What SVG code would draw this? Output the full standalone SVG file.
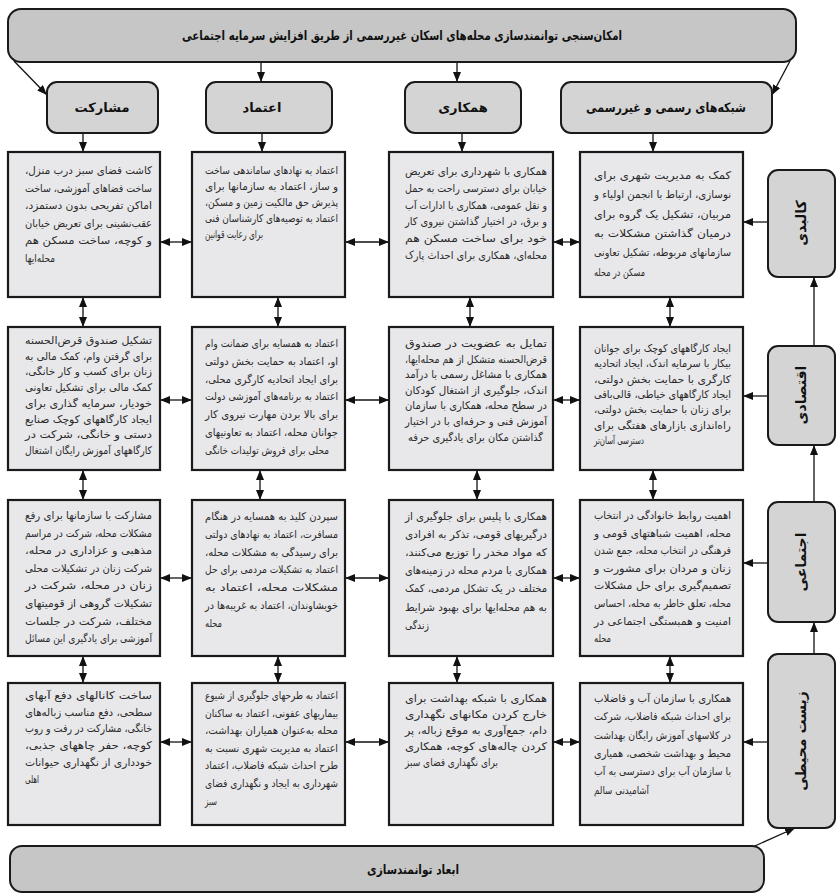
<svg xmlns="http://www.w3.org/2000/svg" width="838" height="896" viewBox="0 0 838 896">
<style>
.bar{fill:#c6c6c6;stroke:#1a1a1a;stroke-width:2}
.hd{fill:#d4d4d4;stroke:#1a1a1a;stroke-width:2}
.bx{fill:#e8e8ea;stroke:#1a1a1a;stroke-width:2.2}
.t{font-family:"DejaVu Sans",sans-serif;font-size:10.5px;fill:#2a2a2a;direction:rtl;text-anchor:start}
.h{font-family:"DejaVu Sans",sans-serif;font-size:13px;font-weight:bold;fill:#111;direction:rtl;text-anchor:middle}
.s{font-family:"DejaVu Sans",sans-serif;font-size:14px;font-weight:bold;fill:#111;direction:rtl;text-anchor:middle}
.c{stroke:#111;stroke-width:1.3;fill:none}
.a1{marker-end:url(#ah)}
.a2{marker-start:url(#ah);marker-end:url(#ah)}
</style>
<defs>
<marker id="ah" viewBox="0 0 10 8" refX="10" refY="4" markerWidth="10" markerHeight="8" markerUnits="userSpaceOnUse" orient="auto-start-reverse">
<path d="M0,0 L10,4 L0,8 z" fill="#111"/>
</marker>
</defs>

<g id="connectors">
<line class="c a1" x1="14" y1="61" x2="47" y2="95"/>
<line class="c a1" x1="790" y1="61" x2="772" y2="95"/>
<line class="c a1" x1="261" y1="62" x2="261" y2="82"/>
<line class="c a1" x1="457" y1="62" x2="457" y2="82"/>
<line class="c a1" x1="83" y1="133" x2="83" y2="152"/>
<line class="c a1" x1="262" y1="133" x2="262" y2="152"/>
<line class="c a1" x1="462" y1="133" x2="462" y2="152"/>
<line class="c a1" x1="653" y1="133" x2="653" y2="152"/>
<line class="c a2" x1="83" y1="297" x2="83" y2="327"/>
<line class="c a2" x1="278" y1="297" x2="278" y2="327"/>
<line class="c a2" x1="470" y1="297" x2="470" y2="327"/>
<line class="c a2" x1="670" y1="297" x2="670" y2="327"/>
<line class="c a2" x1="83" y1="470" x2="83" y2="500"/>
<line class="c a2" x1="260" y1="470" x2="260" y2="500"/>
<line class="c a2" x1="477" y1="470" x2="477" y2="500"/>
<line class="c a2" x1="653" y1="470" x2="653" y2="500"/>
<line class="c a2" x1="83" y1="656" x2="83" y2="683"/>
<line class="c a2" x1="278" y1="656" x2="278" y2="683"/>
<line class="c a2" x1="457" y1="656" x2="457" y2="683"/>
<line class="c a2" x1="670" y1="656" x2="670" y2="683"/>
<line class="c a2" x1="160" y1="242" x2="192" y2="242"/>
<line class="c a2" x1="345" y1="242" x2="389" y2="242"/>
<line class="c a2" x1="553" y1="242" x2="580" y2="242"/>
<line class="c a2" x1="160" y1="400" x2="192" y2="400"/>
<line class="c a2" x1="345" y1="400" x2="389" y2="400"/>
<line class="c a2" x1="553" y1="400" x2="580" y2="400"/>
<line class="c a2" x1="160" y1="578" x2="192" y2="578"/>
<line class="c a2" x1="345" y1="578" x2="389" y2="578"/>
<line class="c a2" x1="553" y1="578" x2="580" y2="578"/>
<line class="c a2" x1="160" y1="742" x2="192" y2="742"/>
<line class="c a2" x1="345" y1="742" x2="389" y2="742"/>
<line class="c a2" x1="553" y1="742" x2="580" y2="742"/>
<line class="c a1" x1="768" y1="222" x2="743" y2="222"/>
<line class="c a1" x1="768" y1="396" x2="743" y2="396"/>
<line class="c a1" x1="768" y1="563" x2="743" y2="563"/>
<line class="c a1" x1="768" y1="742" x2="743" y2="742"/>
<line class="c a1" x1="814" y1="346" x2="814" y2="277"/>
<line class="c a1" x1="814" y1="502" x2="814" y2="445"/>
<line class="c a1" x1="814" y1="654" x2="814" y2="622"/>
<line class="c a1" x1="748" y1="849" x2="795" y2="828"/>
</g>

<g id="title">
<rect class="bar" x="8" y="9" width="788" height="53" rx="13"/>
<text class="h" x="402" y="40" textLength="440" lengthAdjust="spacingAndGlyphs">امکان‌سنجی توانمندسازی محله‌های اسکان غیررسمی از طریق افزایش سرمایه اجتماعی</text>
</g>

<g id="h-mosharekat"><rect class="hd" x="47" y="82" width="111" height="51" rx="10"/><text class="h" x="102" y="112">مشارکت</text></g>
<g id="h-etemad"><rect class="hd" x="206" y="82" width="126" height="51" rx="10"/><text class="h" x="262" y="112">اعتماد</text></g>
<g id="h-hamkari"><rect class="hd" x="405" y="82" width="116" height="51" rx="10"/><text class="h" x="463" y="112">همکاری</text></g>
<g id="h-shabakeh"><rect class="hd" x="561" y="82" width="211" height="51" rx="10"/><text class="h" x="666" y="112" textLength="160" lengthAdjust="spacingAndGlyphs">شبکه‌های رسمی و غیررسمی</text></g>

<g id="s-kalbadi"><rect class="hd" x="768" y="170" width="67" height="107" rx="10"/><text class="s" transform="translate(806,223) rotate(-90)" x="0" y="0">کالبدی</text></g>
<g id="s-eghtesadi"><rect class="hd" x="768" y="346" width="67" height="99" rx="10"/><text class="s" transform="translate(806,395) rotate(-90)" x="0" y="0">اقتصادی</text></g>
<g id="s-ejtemai"><rect class="hd" x="768" y="502" width="67" height="120" rx="10"/><text class="s" transform="translate(806,562) rotate(-90)" x="0" y="0">اجتماعی</text></g>
<g id="s-zist"><rect class="hd" x="768" y="654" width="67" height="174" rx="10"/><text class="s" transform="translate(806,741) rotate(-90)" x="0" y="0">زیست محیطی</text></g>

<g id="bottom">
<rect class="bar" x="10" y="846" width="754" height="46" rx="12"/>
<text class="h" x="413" y="874" textLength="92" lengthAdjust="spacingAndGlyphs">ابعاد توانمندسازی</text>
</g>

<g id="r1c1"><rect class="bx" x="8" y="152" width="152" height="145"/>
<text class="t" x="152" y="174" textLength="127" lengthAdjust="spacingAndGlyphs">کاشت فضای سبز درب منزل،</text>
<text class="t" x="152" y="191.5" textLength="127" lengthAdjust="spacingAndGlyphs">ساخت فضاهای آموزشی، ساخت</text>
<text class="t" x="152" y="209" textLength="127" lengthAdjust="spacingAndGlyphs">اماکن تفریحی بدون دستمزد،</text>
<text class="t" x="152" y="226.5" textLength="127" lengthAdjust="spacingAndGlyphs">عقب‌نشینی برای تعریض خیابان</text>
<text class="t" x="152" y="244" textLength="127" lengthAdjust="spacingAndGlyphs">و کوچه، ساخت مسکن هم</text>
<text class="t" x="55" y="261.5" textLength="30" lengthAdjust="spacingAndGlyphs">محله‌ایها</text>
</g>
<g id="r1c2"><rect class="bx" x="192" y="152" width="153" height="145"/>
<text class="t" x="338" y="174" textLength="133" lengthAdjust="spacingAndGlyphs">اعتماد به نهادهای ساماندهی ساخت</text>
<text class="t" x="338" y="190.1" textLength="133" lengthAdjust="spacingAndGlyphs">و ساز، اعتماد به سازمانها برای</text>
<text class="t" x="338" y="206.2" textLength="133" lengthAdjust="spacingAndGlyphs">پذیرش حق مالکیت زمین و مسکن،</text>
<text class="t" x="338" y="222.3" textLength="133" lengthAdjust="spacingAndGlyphs">اعتماد به توصیه‌های کارشناسان فنی</text>
<text class="t" x="263" y="238.4" textLength="58" lengthAdjust="spacingAndGlyphs">برای رعایت قوانین</text>
</g>
<g id="r1c3"><rect class="bx" x="389" y="152" width="164" height="145"/>
<text class="t" x="547" y="175" textLength="142" lengthAdjust="spacingAndGlyphs">همکاری با شهرداری برای تعریض</text>
<text class="t" x="547" y="191.8" textLength="142" lengthAdjust="spacingAndGlyphs">خیابان برای دسترسی راحت به حمل</text>
<text class="t" x="547" y="208.6" textLength="142" lengthAdjust="spacingAndGlyphs">و نقل عمومی، همکاری با ادارات آب</text>
<text class="t" x="547" y="225.4" textLength="142" lengthAdjust="spacingAndGlyphs">و برق، در اختیار گذاشتن نیروی کار</text>
<text class="t" x="547" y="242.2" textLength="142" lengthAdjust="spacingAndGlyphs">خود برای ساخت مسکن هم</text>
<text class="t" x="547" y="259" textLength="142" lengthAdjust="spacingAndGlyphs">محله‌ای، همکاری برای احداث پارک</text>
</g>
<g id="r1c4"><rect class="bx" x="580" y="152" width="163" height="145"/>
<text class="t" x="731" y="179" textLength="137" lengthAdjust="spacingAndGlyphs">کمک به مدیریت شهری برای</text>
<text class="t" x="731" y="198.3" textLength="137" lengthAdjust="spacingAndGlyphs">نوسازی، ارتباط با انجمن اولیاء و</text>
<text class="t" x="731" y="217.6" textLength="137" lengthAdjust="spacingAndGlyphs">مربیان، تشکیل یک گروه برای</text>
<text class="t" x="731" y="236.9" textLength="137" lengthAdjust="spacingAndGlyphs">درمیان گذاشتن مشکلات به</text>
<text class="t" x="731" y="256.2" textLength="137" lengthAdjust="spacingAndGlyphs">سازمانهای مربوطه، تشکیل تعاونی</text>
<text class="t" x="645" y="275.5" textLength="51" lengthAdjust="spacingAndGlyphs">مسکن در محله</text>
</g>

<g id="r2c1"><rect class="bx" x="8" y="327" width="152" height="143"/>
<text class="t" x="152" y="344" textLength="127" lengthAdjust="spacingAndGlyphs">تشکیل صندوق قرض‌الحسنه</text>
<text class="t" x="152" y="359.7" textLength="127" lengthAdjust="spacingAndGlyphs">برای گرفتن وام، کمک مالی به</text>
<text class="t" x="152" y="375.4" textLength="127" lengthAdjust="spacingAndGlyphs">زنان برای کسب و کار خانگی،</text>
<text class="t" x="152" y="391.1" textLength="127" lengthAdjust="spacingAndGlyphs">کمک مالی برای تشکیل تعاونی</text>
<text class="t" x="152" y="406.8" textLength="127" lengthAdjust="spacingAndGlyphs">خودیار، سرمایه گذاری برای</text>
<text class="t" x="152" y="422.5" textLength="127" lengthAdjust="spacingAndGlyphs">ایجاد کارگاههای کوچک صنایع</text>
<text class="t" x="152" y="438.2" textLength="127" lengthAdjust="spacingAndGlyphs">دستی و خانگی، شرکت در</text>
<text class="t" x="152" y="453.9" textLength="127" lengthAdjust="spacingAndGlyphs">کارگاههای آموزش رایگان اشتغال</text>
</g>
<g id="r2c2"><rect class="bx" x="192" y="327" width="153" height="143"/>
<text class="t" x="338" y="347" textLength="133" lengthAdjust="spacingAndGlyphs">اعتماد به همسایه برای ضمانت وام</text>
<text class="t" x="338" y="364.8" textLength="133" lengthAdjust="spacingAndGlyphs">او، اعتماد به حمایت بخش دولتی</text>
<text class="t" x="338" y="382.6" textLength="133" lengthAdjust="spacingAndGlyphs">برای ایجاد اتحادیه کارگری محلی،</text>
<text class="t" x="338" y="400.4" textLength="133" lengthAdjust="spacingAndGlyphs">اعتماد به برنامه‌های آموزشی دولت</text>
<text class="t" x="338" y="418.2" textLength="133" lengthAdjust="spacingAndGlyphs">برای بالا بردن مهارت نیروی کار</text>
<text class="t" x="338" y="436" textLength="133" lengthAdjust="spacingAndGlyphs">جوانان محله، اعتماد به تعاونیهای</text>
<text class="t" x="329" y="453.8" textLength="124" lengthAdjust="spacingAndGlyphs">محلی برای فروش تولیدات خانگی</text>
</g>
<g id="r2c3"><rect class="bx" x="389" y="327" width="164" height="143"/>
<text class="t" x="547" y="347" textLength="142" lengthAdjust="spacingAndGlyphs">تمایل به عضویت در صندوق</text>
<text class="t" x="547" y="362.6" textLength="142" lengthAdjust="spacingAndGlyphs">قرض‌الحسنه متشکل از هم محله‌ایها،</text>
<text class="t" x="547" y="378.2" textLength="142" lengthAdjust="spacingAndGlyphs">همکاری با مشاغل رسمی با درآمد</text>
<text class="t" x="547" y="393.8" textLength="142" lengthAdjust="spacingAndGlyphs">اندک، جلوگیری از اشتغال کودکان</text>
<text class="t" x="547" y="409.4" textLength="142" lengthAdjust="spacingAndGlyphs">در سطح محله، همکاری با سازمان</text>
<text class="t" x="547" y="425" textLength="142" lengthAdjust="spacingAndGlyphs">آموزش فنی و حرفه‌ای با در اختیار</text>
<text class="t" x="543" y="440.6" textLength="135" lengthAdjust="spacingAndGlyphs">گذاشتن مکان برای یادگیری حرفه</text>
</g>
<g id="r2c4"><rect class="bx" x="580" y="327" width="163" height="143"/>
<text class="t" x="731" y="352" textLength="137" lengthAdjust="spacingAndGlyphs">ایجاد کارگاههای کوچک برای جوانان</text>
<text class="t" x="731" y="367.3" textLength="137" lengthAdjust="spacingAndGlyphs">بیکار با سرمایه اندک، ایجاد اتحادیه</text>
<text class="t" x="731" y="382.6" textLength="137" lengthAdjust="spacingAndGlyphs">کارگری با حمایت بخش دولتی،</text>
<text class="t" x="731" y="397.9" textLength="137" lengthAdjust="spacingAndGlyphs">ایجاد کارگاههای خیاطی، قالی‌بافی</text>
<text class="t" x="731" y="413.2" textLength="137" lengthAdjust="spacingAndGlyphs">برای زنان با حمایت بخش دولتی،</text>
<text class="t" x="731" y="428.5" textLength="137" lengthAdjust="spacingAndGlyphs">راه‌اندازی بازارهای هفتگی برای</text>
<text class="t" x="644" y="443.8" textLength="50" lengthAdjust="spacingAndGlyphs">دسترسی آسان‌تر</text>
</g>

<g id="r3c1"><rect class="bx" x="8" y="500" width="152" height="156"/>
<text class="t" x="152" y="519" textLength="127" lengthAdjust="spacingAndGlyphs">مشارکت با سازمانها برای رفع</text>
<text class="t" x="152" y="536.6" textLength="127" lengthAdjust="spacingAndGlyphs">مشکلات محله، شرکت در مراسم</text>
<text class="t" x="152" y="554.2" textLength="127" lengthAdjust="spacingAndGlyphs">مذهبی و عزاداری در محله،</text>
<text class="t" x="152" y="571.8" textLength="127" lengthAdjust="spacingAndGlyphs">شرکت زنان در تشکیلات محلی</text>
<text class="t" x="152" y="589.4" textLength="127" lengthAdjust="spacingAndGlyphs">زنان در محله، شرکت در</text>
<text class="t" x="152" y="607" textLength="127" lengthAdjust="spacingAndGlyphs">تشکیلات گروهی از قومیتهای</text>
<text class="t" x="152" y="624.6" textLength="127" lengthAdjust="spacingAndGlyphs">مختلف، شرکت در جلسات</text>
<text class="t" x="152" y="642.2" textLength="127" lengthAdjust="spacingAndGlyphs">آموزشی برای یادگیری این مسائل</text>
</g>
<g id="r3c2"><rect class="bx" x="192" y="500" width="153" height="156"/>
<text class="t" x="338" y="520" textLength="133" lengthAdjust="spacingAndGlyphs">سپردن کلید به همسایه در هنگام</text>
<text class="t" x="338" y="537.8" textLength="133" lengthAdjust="spacingAndGlyphs">مسافرت، اعتماد به نهادهای دولتی</text>
<text class="t" x="338" y="555.6" textLength="133" lengthAdjust="spacingAndGlyphs">برای رسیدگی به مشکلات محله،</text>
<text class="t" x="338" y="573.4" textLength="133" lengthAdjust="spacingAndGlyphs">اعتماد به تشکیلات مردمی برای حل</text>
<text class="t" x="338" y="591.2" textLength="133" lengthAdjust="spacingAndGlyphs">مشکلات محله، اعتماد به</text>
<text class="t" x="338" y="609" textLength="133" lengthAdjust="spacingAndGlyphs">خویشاوندان، اعتماد به غریبه‌ها در</text>
<text class="t" x="222" y="626.8" textLength="17" lengthAdjust="spacingAndGlyphs">محله</text>
</g>
<g id="r3c3"><rect class="bx" x="389" y="500" width="164" height="156"/>
<text class="t" x="547" y="520" textLength="142" lengthAdjust="spacingAndGlyphs">همکاری با پلیس برای جلوگیری از</text>
<text class="t" x="547" y="538.1" textLength="142" lengthAdjust="spacingAndGlyphs">درگیریهای قومی، تذکر به افرادی</text>
<text class="t" x="547" y="556.2" textLength="142" lengthAdjust="spacingAndGlyphs">که مواد مخدر را توزیع می‌کنند،</text>
<text class="t" x="547" y="574.3" textLength="142" lengthAdjust="spacingAndGlyphs">همکاری با مردم محله در زمینه‌های</text>
<text class="t" x="547" y="592.4" textLength="142" lengthAdjust="spacingAndGlyphs">مختلف در یک تشکل مردمی، کمک</text>
<text class="t" x="547" y="610.5" textLength="142" lengthAdjust="spacingAndGlyphs">به هم محله‌ایها برای بهبود شرایط</text>
<text class="t" x="429" y="628.6" textLength="24" lengthAdjust="spacingAndGlyphs">زندگی</text>
</g>
<g id="r3c4"><rect class="bx" x="580" y="500" width="163" height="156"/>
<text class="t" x="731" y="519" textLength="137" lengthAdjust="spacingAndGlyphs">اهمیت روابط خانوادگی در انتخاب</text>
<text class="t" x="731" y="536.6" textLength="137" lengthAdjust="spacingAndGlyphs">محله، اهمیت شباهتهای قومی و</text>
<text class="t" x="731" y="554.2" textLength="137" lengthAdjust="spacingAndGlyphs">فرهنگی در انتخاب محله، جمع شدن</text>
<text class="t" x="731" y="571.8" textLength="137" lengthAdjust="spacingAndGlyphs">زنان و مردان برای مشورت و</text>
<text class="t" x="731" y="589.4" textLength="137" lengthAdjust="spacingAndGlyphs">تصمیم‌گیری برای حل مشکلات</text>
<text class="t" x="731" y="607" textLength="137" lengthAdjust="spacingAndGlyphs">محله، تعلق خاطر به محله، احساس</text>
<text class="t" x="731" y="624.6" textLength="137" lengthAdjust="spacingAndGlyphs">امنیت و همبستگی اجتماعی در</text>
<text class="t" x="611" y="642.2" textLength="17" lengthAdjust="spacingAndGlyphs">محله</text>
</g>

<g id="r4c1"><rect class="bx" x="8" y="683" width="152" height="142"/>
<text class="t" x="152" y="699" textLength="127" lengthAdjust="spacingAndGlyphs">ساخت کانالهای دفع آبهای</text>
<text class="t" x="152" y="715.7" textLength="127" lengthAdjust="spacingAndGlyphs">سطحی، دفع مناسب زباله‌های</text>
<text class="t" x="152" y="732.4" textLength="127" lengthAdjust="spacingAndGlyphs">خانگی، مشارکت در رفت و روب</text>
<text class="t" x="152" y="749.1" textLength="127" lengthAdjust="spacingAndGlyphs">کوچه، حفر چاههای جذبی،</text>
<text class="t" x="152" y="765.8" textLength="127" lengthAdjust="spacingAndGlyphs">خودداری از نگهداری حیوانات</text>
<text class="t" x="39" y="782.5" textLength="14" lengthAdjust="spacingAndGlyphs">اهلی</text>
</g>
<g id="r4c2"><rect class="bx" x="192" y="683" width="153" height="142"/>
<text class="t" x="338" y="699" textLength="133" lengthAdjust="spacingAndGlyphs">اعتماد به طرحهای جلوگیری از شیوع</text>
<text class="t" x="338" y="716.6" textLength="133" lengthAdjust="spacingAndGlyphs">بیماریهای عفونی، اعتماد به ساکنان</text>
<text class="t" x="338" y="734.2" textLength="133" lengthAdjust="spacingAndGlyphs">محله به‌عنوان همیاران بهداشت،</text>
<text class="t" x="338" y="751.8" textLength="133" lengthAdjust="spacingAndGlyphs">اعتماد به مدیریت شهری نسبت به</text>
<text class="t" x="338" y="769.4" textLength="133" lengthAdjust="spacingAndGlyphs">طرح احداث شبکه فاضلاب، اعتماد</text>
<text class="t" x="338" y="787" textLength="133" lengthAdjust="spacingAndGlyphs">شهرداری به ایجاد و نگهداری فضای</text>
<text class="t" x="217" y="804.6" textLength="12" lengthAdjust="spacingAndGlyphs">سبز</text>
</g>
<g id="r4c3"><rect class="bx" x="389" y="683" width="164" height="142"/>
<text class="t" x="547" y="702" textLength="142" lengthAdjust="spacingAndGlyphs">همکاری با شبکه بهداشت برای</text>
<text class="t" x="547" y="718.1" textLength="142" lengthAdjust="spacingAndGlyphs">خارج کردن مکانهای نگهداری</text>
<text class="t" x="547" y="734.2" textLength="142" lengthAdjust="spacingAndGlyphs">دام، جمع‌آوری به موقع زباله، پر</text>
<text class="t" x="547" y="750.3" textLength="142" lengthAdjust="spacingAndGlyphs">کردن چاله‌های کوچه، همکاری</text>
<text class="t" x="498" y="766.4" textLength="93" lengthAdjust="spacingAndGlyphs">برای نگهداری فضای سبز</text>
</g>
<g id="r4c4"><rect class="bx" x="580" y="683" width="163" height="142"/>
<text class="t" x="731" y="702" textLength="137" lengthAdjust="spacingAndGlyphs">همکاری با سازمان آب و فاضلاب</text>
<text class="t" x="731" y="720.3" textLength="137" lengthAdjust="spacingAndGlyphs">برای احداث شبکه فاضلاب، شرکت</text>
<text class="t" x="731" y="738.6" textLength="137" lengthAdjust="spacingAndGlyphs">در کلاسهای آموزش رایگان بهداشت</text>
<text class="t" x="731" y="756.9" textLength="137" lengthAdjust="spacingAndGlyphs">محیط و بهداشت شخصی، همیاری</text>
<text class="t" x="731" y="775.2" textLength="137" lengthAdjust="spacingAndGlyphs">با سازمان آب برای دسترسی به آب</text>
<text class="t" x="649" y="793.5" textLength="55" lengthAdjust="spacingAndGlyphs">آشامیدنی سالم</text>
</g>
</svg>
